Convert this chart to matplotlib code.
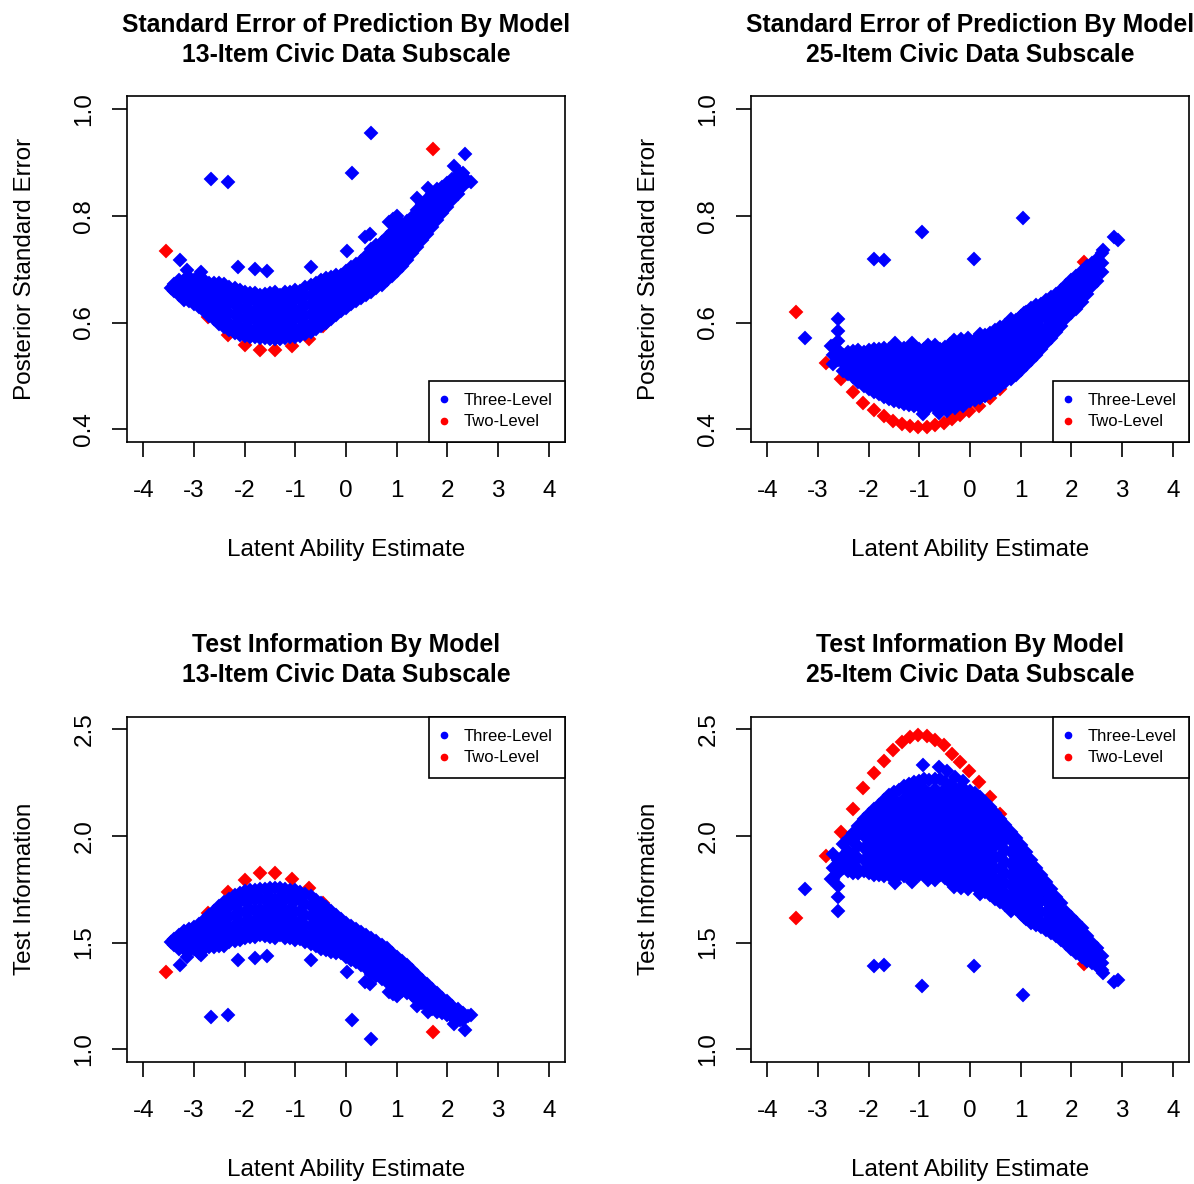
import numpy as np
import matplotlib
matplotlib.use("Agg")
import matplotlib.pyplot as plt
from matplotlib.lines import Line2D

plt.rcParams["font.family"] = ["Liberation Sans", "DejaVu Sans"]
plt.rcParams["axes.unicode_minus"] = False

# Posterior SE per respondent, stored in thousandths.
# Dense part of each cloud is kept column by column: (theta, [se, se, ...]).
se13_cols = [
    (-3.45, [665]),
    (-3.4, [660, 672]),
    (-3.3, [652, 668, 680]),
    (-3.2, [645, 662, 680]),
    (-3.1, [640, 655, 670, 685]),
    (-3.0, [635, 650, 668, 680]),
    (-2.9, [630, 645, 662, 678, 688]),
    (-2.8, [622, 638, 655, 672, 680]),
    (-2.7, [613, 630, 647, 665, 675]),
    (-2.6, [606, 622, 640, 658, 675]),
    (-2.5, [598, 614, 632, 650, 668, 674]),
    (-2.4, [591, 607, 625, 643, 661, 673]),
    (-2.3, [586, 600, 618, 636, 654, 666]),
    (-2.2, [581, 596, 614, 632, 650, 664]),
    (-2.1, [577, 591, 609, 627, 645, 662]),
    (-2.0, [574, 590, 608, 626, 644, 658]),
    (-1.9, [573, 586, 604, 622, 640, 656]),
    (-1.8, [572, 588, 606, 624, 642, 655]),
    (-1.7, [571, 585, 603, 621, 639, 652]),
    (-1.6, [571, 588, 606, 624, 642, 654]),
    (-1.5, [570, 584, 602, 620, 638, 656]),
    (-1.4, [570, 588, 606, 624, 642, 657]),
    (-1.3, [570, 584, 602, 620, 638, 652]),
    (-1.2, [571, 588, 606, 624, 642, 657]),
    (-1.1, [572, 585, 603, 621, 639, 657]),
    (-1.0, [573, 590, 608, 626, 644, 661]),
    (-0.9, [575, 588, 606, 624, 642, 660]),
    (-0.8, [578, 595, 613, 631, 649, 666]),
    (-0.7, [582, 598, 616, 634, 652, 670]),
    (-0.6, [588, 604, 622, 640, 658, 674]),
    (-0.5, [594, 610, 628, 646, 664, 680]),
    (-0.4, [600, 616, 634, 652, 670, 683]),
    (-0.3, [607, 622, 640, 658, 676, 686]),
    (-0.2, [614, 630, 648, 666, 684, 690]),
    (-0.1, [621, 636, 654, 672, 690]),
    (0.0, [628, 644, 662, 680, 697]),
    (0.1, [634, 650, 668, 686, 704]),
    (0.2, [640, 656, 674, 692, 710]),
    (0.3, [646, 662, 680, 698, 716]),
    (0.4, [652, 670, 688, 706, 724]),
    (0.5, [658, 676, 694, 712, 730, 738]),
    (0.6, [664, 682, 700, 718, 736, 745]),
    (0.7, [671, 688, 706, 724, 742, 752]),
    (0.8, [679, 696, 714, 732, 750, 760]),
    (0.9, [688, 704, 722, 740, 758, 770]),
    (1.0, [697, 714, 732, 750, 768, 778]),
    (1.1, [707, 722, 740, 758, 776, 785]),
    (1.2, [718, 734, 752, 770, 790]),
    (1.3, [730, 744, 762, 780, 798]),
    (1.4, [742, 758, 776, 794, 812]),
    (1.5, [754, 770, 788, 806, 822]),
    (1.6, [767, 782, 800, 818, 832]),
    (1.7, [780, 796, 814, 832, 842]),
    (1.8, [792, 808, 826, 844, 850]),
    (1.9, [805, 820, 838, 855]),
    (2.0, [817, 834, 852, 862]),
    (2.1, [830, 846, 864, 870]),
    (2.2, [842, 858, 874]),
    (2.3, [856, 872, 880]),
    (2.4, [865]),
]
se13_extra_x = [-3.27, -3.13, -3.19, -2.86, -2.66, -2.33, -2.13, -1.80, -1.55, -0.69,
                0.02, 0.12, 0.38, 0.48, 0.50, 0.85, 0.93, 1.01, 1.41, 1.61,
                2.14, 2.25, 2.35, 2.47]
se13_extra_y = [717, 699, 643, 694, 870, 863, 704, 700, 696, 704,
                735, 881, 760, 767, 956, 788, 795, 800, 833, 853,
                894, 880, 916, 863]
se13_two_x = [-3.55, -3.12, -2.72, -2.33, -2.0, -1.7, -1.4, -1.07, -0.74, -0.45,
              -0.12, 0.35, 1.0, 1.72]
se13_two_y = [735, 656, 610, 576, 557, 548, 548, 556, 570, 593,
              628, 670, 788, 925]

se25_cols = [
    (-2.7, [522, 540, 556]),
    (-2.6, [530, 548, 566, 584, 607]),
    (-2.5, [510, 525, 540]),
    (-2.4, [503, 518, 533, 545]),
    (-2.3, [497, 507, 522, 537, 547]),
    (-2.2, [489, 499, 512, 527, 542, 548]),
    (-2.1, [481, 490, 500, 515, 530, 545]),
    (-2.0, [476, 485, 495, 505, 520, 535, 548]),
    (-1.9, [470, 480, 490, 500, 512, 527, 542, 550]),
    (-1.8, [466, 475, 485, 495, 505, 520, 535, 550]),
    (-1.7, [461, 470, 480, 490, 500, 512, 527, 542, 552]),
    (-1.6, [456, 465, 475, 485, 495, 505, 520, 535, 550]),
    (-1.5, [453, 460, 470, 480, 490, 500, 512, 527, 542, 555]),
    (-1.4, [451, 465, 475, 485, 495, 505, 520, 535, 550]),
    (-1.3, [448, 460, 470, 480, 490, 500, 512, 527, 542, 552]),
    (-1.2, [446, 455, 465, 475, 485, 495, 505, 520, 535, 550]),
    (-1.1, [444, 450, 460, 470, 480, 490, 500, 512, 527, 542, 552]),
    (-1.0, [443, 455, 465, 475, 485, 495, 505, 520, 535, 550]),
    (-0.9, [441, 450, 460, 470, 480, 490, 500, 512, 527, 542, 550]),
    (-0.8, [442, 455, 465, 475, 485, 495, 505, 520, 535, 550]),
    (-0.7, [441, 450, 460, 470, 480, 490, 500, 512, 527, 542, 550]),
    (-0.6, [441, 455, 465, 475, 485, 495, 505, 520, 535, 550]),
    (-0.5, [444, 450, 460, 470, 480, 490, 500, 512, 527, 542, 555]),
    (-0.4, [447, 455, 465, 475, 485, 495, 505, 520, 535, 550, 560]),
    (-0.3, [449, 460, 470, 480, 490, 500, 512, 527, 542, 557]),
    (-0.2, [449, 455, 465, 475, 485, 495, 505, 520, 535, 550, 562]),
    (-0.1, [451, 460, 470, 480, 490, 500, 512, 527, 542, 557, 563]),
    (0.0, [452, 465, 475, 485, 495, 505, 520, 535, 550, 564]),
    (0.1, [454, 460, 470, 480, 490, 500, 512, 527, 542, 557, 567]),
    (0.2, [458, 465, 475, 485, 495, 505, 520, 535, 550, 565, 572]),
    (0.3, [463, 470, 480, 490, 500, 512, 527, 542, 557, 572, 576]),
    (0.4, [468, 475, 485, 495, 505, 520, 535, 550, 565, 580]),
    (0.5, [474, 480, 490, 500, 512, 527, 542, 557, 572, 586]),
    (0.6, [481, 490, 500, 510, 525, 540, 555, 570, 585, 592]),
    (0.7, [488, 495, 505, 517, 532, 547, 562, 577, 592, 596]),
    (0.8, [495, 505, 520, 535, 550, 565, 580, 598]),
    (0.9, [502, 512, 527, 542, 557, 572, 588, 604]),
    (1.0, [511, 520, 535, 550, 565, 580, 596, 612]),
    (1.1, [520, 530, 545, 560, 575, 590, 605, 620]),
    (1.2, [530, 540, 555, 570, 585, 600, 615, 628]),
    (1.3, [540, 550, 565, 580, 598, 616, 632]),
    (1.4, [551, 560, 575, 590, 608, 626, 635]),
    (1.5, [561, 572, 590, 608, 626, 642]),
    (1.6, [571, 582, 600, 618, 636, 648]),
    (1.7, [583, 594, 612, 630, 648, 654]),
    (1.8, [594, 606, 624, 642, 662]),
    (1.9, [608, 618, 636, 654, 670]),
    (2.0, [618, 630, 648, 666, 680]),
    (2.1, [626, 642, 660, 678, 688]),
    (2.2, [638, 655, 673, 690, 697]),
    (2.3, [653, 668, 686, 707]),
    (2.4, [668, 682, 700, 712]),
    (2.5, [678, 695, 712, 720]),
    (2.6, [695, 712, 730]),
]
se25_extra_x = [-3.25, -2.74, -1.90, -1.70, -0.95, 0.085, 1.05, 2.62, 2.84, 2.92,
                -0.92, -0.62, -0.45, -0.30, -0.13, -1.48, -1.15, -0.82, -0.69,
                -0.32, -0.18, -0.03, 0.2, 0.8, 1.07]
se25_extra_y = [571, 556, 720, 717, 770, 720, 797, 737, 761, 754,
                429, 430, 434, 439, 443, 562, 561, 557, 557,
                568, 570, 571, 579, 606, 618]
se25_two_x = [-3.43, -2.84, -2.55, -2.31, -2.11, -1.90, -1.70, -1.52, -1.35, -1.18,
              -1.02, -0.85, -0.69, -0.52, -0.36, -0.19, -0.02, 0.18, 0.39, 0.60,
              0.86, 1.17, 1.50, 1.85, 2.25]
se25_two_y = [619, 525, 495, 470, 449, 436, 425, 416, 410, 406,
              404, 405, 408, 412, 419, 426, 434, 444, 458, 476,
              502, 535, 580, 640, 714]


def flatten(cols, extra_x, extra_y):
    xs = [x for x, ys in cols for _ in ys] + list(extra_x)
    ys = [y for _, col in cols for y in col] + list(extra_y)
    return np.array(xs), np.array(ys) / 1000.0


se13_x, se13_y = flatten(se13_cols, se13_extra_x, se13_extra_y)
se25_x, se25_y = flatten(se25_cols, se25_extra_x, se25_extra_y)
se13_tx, se13_ty = np.array(se13_two_x), np.array(se13_two_y) / 1000.0
se25_tx, se25_ty = np.array(se25_two_x), np.array(se25_two_y) / 1000.0

# test information is the reciprocal of the posterior SE
panels = [
    ("Standard Error of Prediction By Model\n13-Item Civic Data Subscale",
     "Posterior Standard Error", se13_x, se13_y, se13_tx, se13_ty, "se"),
    ("Standard Error of Prediction By Model\n25-Item Civic Data Subscale",
     "Posterior Standard Error", se25_x, se25_y, se25_tx, se25_ty, "se"),
    ("Test Information By Model\n13-Item Civic Data Subscale",
     "Test Information", se13_x, 1 / se13_y, se13_tx, 1 / se13_ty, "info"),
    ("Test Information By Model\n25-Item Civic Data Subscale",
     "Test Information", se25_x, 1 / se25_y, se25_tx, 1 / se25_ty, "info"),
]

fig = plt.figure(figsize=(11.94, 11.84), dpi=100)
lefts = [0.1064, 0.629, 0.1064, 0.629]
bottoms = [0.6267, 0.6267, 0.1030, 0.1030]
FS = 17.5

for (title, ylab, bx, by, rx, ry, kind), l, b in zip(panels, lefts, bottoms):
    ax = fig.add_axes([l, b, 0.3668, 0.2918])
    ax.plot(rx, ry, "D", color="red", ms=6.0, mew=1.4, mec="red", ls="none")
    ax.plot(bx, by, "D", color="blue", ms=6.0, mew=1.4, mec="blue", ls="none")

    ax.set_xlim(-4.32, 4.32)
    ax.set_xticks(range(-4, 5))
    ax.set_xticklabels([str(v) for v in range(-4, 5)], fontsize=FS)
    if kind == "se":
        ax.set_ylim(0.376, 1.024)
        yt = [0.4, 0.6, 0.8, 1.0]
        loc = "lower right"
    else:
        ax.set_ylim(0.94, 2.56)
        yt = [1.0, 1.5, 2.0, 2.5]
        loc = "upper right"
    ax.set_yticks(yt)
    ax.set_yticklabels([f"{v:.1f}" for v in yt], fontsize=FS, rotation=90, va="center")
    ax.tick_params(axis="x", direction="out", length=10.8, width=1.2, pad=16.5)
    ax.tick_params(axis="y", direction="out", length=10.8, width=1.2, pad=12)

    for sp in ax.spines.values():
        sp.set_linewidth(1.2)
        sp.set_color("black")

    ax.set_title(title, fontsize=17.8, fontweight="bold", pad=25, linespacing=1.3)
    ax.set_xlabel("Latent Ability Estimate", fontsize=FS, labelpad=27)
    ax.set_ylabel(ylab, fontsize=FS, labelpad=27)

    handles = [Line2D([], [], marker="o", color="blue", ls="none", ms=4.5),
               Line2D([], [], marker="o", color="red", ls="none", ms=4.5)]
    leg = ax.legend(handles, ["Three-Level", "Two-Level"], loc=loc, fontsize=12,
                    borderaxespad=0, fancybox=False, framealpha=1, edgecolor="black",
                    borderpad=0.75, handlelength=0.3, handletextpad=1.0,
                    labelspacing=0.38)
    leg.get_frame().set_linewidth(1.2)

fig.savefig("out.png", dpi=100)
